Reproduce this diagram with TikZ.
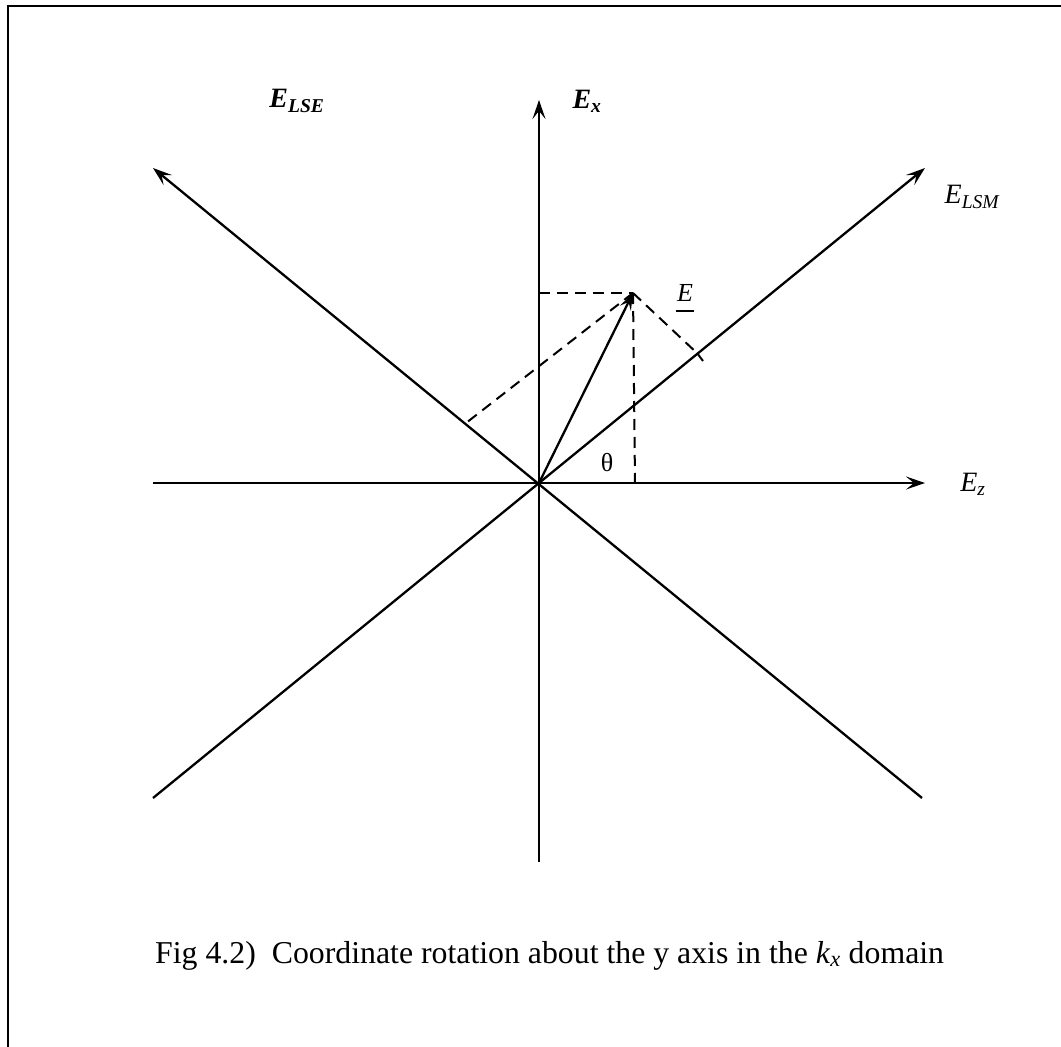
\documentclass[tikz,border=0pt]{standalone}
\usepackage{fontspec}
\setmainfont{Liberation Serif}
\usetikzlibrary{arrows.meta}
\begin{document}
\begin{tikzpicture}[x=1pt,y=-1pt,
  axis/.style={line width=2.3pt,-{Stealth[length=19pt,width=13pt,inset=8pt]}},
  vecarrow/.style={line width=2.3pt,-{Stealth[length=17pt,width=12pt,inset=7pt]}},
  helper/.style={line width=2pt,dash pattern=on 11pt off 7pt},
  lbl/.style={inner sep=0pt,font=\fontsize{28}{32}\selectfont\itshape},
  boldlbl/.style={lbl,font=\fontsize{28}{32}\selectfont\bfseries\itshape},
  frame/.style={line width=2.8pt}]
\useasboundingbox (0,0) rectangle (1061,1047);
% frame (top and left sides)
\coordinate (FTR) at (1061,6);
\coordinate (FTL) at (8,6);
\coordinate (FBL) at (8,1047);
\draw[frame] (FTR) -- (FTL) -- (FBL);
% axes
\coordinate (O) at (539,483);
\coordinate (Xtop) at (539,100);
\coordinate (Xbot) at (539,862);
\coordinate (Zleft) at (153,483);
\coordinate (Zright) at (925,483);
\coordinate (LSEtip) at (153,168);
\coordinate (LSEend) at (922,798);
\coordinate (LSMtip) at (925,168);
\coordinate (LSMend) at (153,798);
\draw[axis] (Xbot) -- (Xtop);
\draw[axis] (Zleft) -- (Zright);
\draw[axis] (LSEend) -- (LSEtip);
\draw[axis] (LSMend) -- (LSMtip);
% field vector and construction lines
\coordinate (Etip) at (633,293);
\coordinate (Ex) at (539,293);
\coordinate (Ez) at (635,483);
\coordinate (Else) at (466,423);
\coordinate (Elsm) at (698,354);
\coordinate (TickA) at (697,353);
\coordinate (TickB) at (703,361);
\draw[helper] (Ex) -- (Etip);
\draw[helper] (Etip) -- (Ez);
\draw[helper] (Etip) -- (Else);
\draw[helper] (Etip) -- (Elsm);
\draw[line width=2pt] (TickA) -- (TickB);
\draw[vecarrow] (O) -- (Etip);
% labels
\node[boldlbl] (lEx) at (587,101) {E\textsubscript{x}};
\node[boldlbl] (lLSE) at (297,101) {E\textsubscript{LSE}};
\node[lbl] (lLSM) at (972,197) {E\textsubscript{LSM}};
\node[lbl] (lEz) at (973,484) {E\textsubscript{z}};
\node[lbl,font=\fontsize{26}{30}\selectfont\itshape] (lE) at (685,293) {E};
\draw[line width=2.3pt] ([xshift=-1pt,yshift=-9pt]lE.south west) -- ([xshift=1pt,yshift=-9pt]lE.south east);
\node[inner sep=0pt,font=\fontsize{26}{30}\selectfont] (lth) at (607,463) {θ};
% caption
\node[inner sep=0pt,anchor=base west,font=\fontsize{31.8}{36}\selectfont] (cap) at (155,963)
  {Fig 4.2)\ \ Coordinate rotation about the y axis in the \textit{k}\textsubscript{\textit{x}} domain};
\end{tikzpicture}
\end{document}
